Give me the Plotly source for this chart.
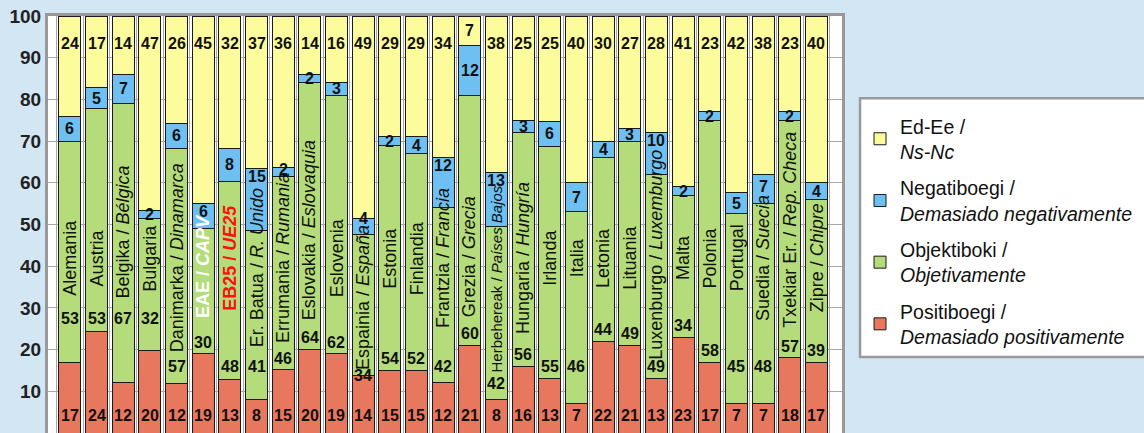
import re
import plotly.graph_objects as go

# countries (Basque / Spanish italic)
countries = [
    "Alemania", "Austria", "Belgika / <i>Bélgica</i>", "Bulgaria",
    "Danimarka / <i>Dinamarca</i>", "EAE / <i>CAPV</i>", "EB25 / <i>UE25</i>",
    "Er. Batua / <i>R. Unido</i>", "Errumania / <i>Rumania</i>",
    "Eslovakia / <i>Eslovaquia</i>", "Eslovenia", "Espainia / <i>España</i>",
    "Estonia", "Finlandia", "Frantzia / <i>Francia</i>", "Grezia / <i>Grecia</i>",
    "Herbehereak / <i>Países Bajos</i>", "Hungaria / <i>Hungría</i>", "Irlanda",
    "Italia", "Letonia", "Lituania", "Luxenburgo / <i>Luxemburgo</i>", "Malta",
    "Polonia", "Portugal", "Suedia / <i>Suecia</i>",
    "Txekiar Er. / <i>Rep. Checa</i>", "Zipre / <i>Chipre</i>",
]
positive = [17, 24, 12, 20, 12, 19, 13, 8, 15, 20, 19, 14, 15, 15, 12, 21, 8, 16, 13, 7, 22, 21, 13, 23, 17, 7, 7, 18, 17]
objective = [53, 53, 67, 32, 57, 30, 48, 41, 46, 64, 62, 34, 54, 52, 42, 60, 42, 56, 55, 46, 44, 49, 49, 34, 58, 45, 48, 57, 39]
negative = [6, 5, 7, 2, 6, 6, 8, 15, 2, 2, 3, 4, 2, 4, 12, 12, 13, 3, 6, 7, 4, 3, 10, 2, 2, 5, 7, 2, 4]
dontknow = [24, 17, 14, 47, 26, 45, 32, 37, 36, 14, 16, 49, 29, 29, 34, 7, 38, 25, 25, 40, 30, 27, 28, 41, 23, 42, 38, 23, 40]

# (legend text, values, colour, legend rank) -- stacked bottom to top
series = [
    ("Positiboegi /<br><i>Demasiado positivamente</i>", positive, "#e8785d", 4),
    ("Objektiboki /<br><i>Objetivamente</i>", objective, "#b5dc7b", 3),
    ("Negatiboegi /<br><i>Demasiado negativamente</i>", negative, "#6dc0f1", 2),
    ("Ed-Ee /<br><i>Ns-Nc</i>", dontknow, "#fdfc9c", 1),
]

BG = "#d3e6f4"
FONT = "Liberation Sans, Arial, sans-serif"
PX_PER_UNIT = 417 / 100  # plot height / y span, for keeping names clear of labels

fig = go.Figure()
for i, (name, vals, color, rank) in enumerate(series):
    fig.add_trace(go.Bar(
        x=countries, y=vals, name=name, marker_color=color,
        marker_line=dict(color="#1a1a1a", width=1), width=0.83,
        legendgroup=str(i), legendrank=rank, hoverinfo="skip",
    ))

# 100% stacked: value labels placed on the normalised stack
ann = []
lab = dict(size=16, color="#111", family=FONT, weight="bold")
for i, c in enumerate(countries):
    tot = positive[i] + objective[i] + negative[i] + dontknow[i]
    p = positive[i] * 100 / tot
    o = objective[i] * 100 / tot
    n = negative[i] * 100 / tot
    d = dontknow[i] * 100 / tot

    name_color, weight = "#111", "normal"
    if c.startswith("EAE"):
        name_color, weight = "white", "bold"
    elif c.startswith("EB25"):
        name_color, weight = "#ff1010", "bold"

    plain = re.sub(r"<[^>]+>", "", c)
    size = 18 if len(plain) <= 24 else 15
    em = 0.53 if weight == "bold" else 0.48
    half_len = len(plain) * em * size / PX_PER_UNIT / 2

    y_red = 4.3
    y_green = 27.5 if i < 4 else max(16, p + 2.8)
    # country name: clear of the green label; may run into a big blue part only
    y_name = max(42, y_green + 3 + half_len)
    name_limit = p + o + (2.5 if negative[i] < 10 else n - 3)
    y_name = min(y_name, name_limit - half_len)
    y_green = max(p, min(y_green, y_name - half_len - 2.5))
    y_blue = p + o + n / 2
    if negative[i] >= 10 and y_blue < 70:
        y_blue = p + o + n - 1.8
    elif negative[i] < 10:
        y_blue = max(y_blue, y_name + half_len + 1.5)
    y_yel = 100 - min(6.5, d / 2)
    for v, yy in ((positive[i], y_red), (objective[i], y_green),
                  (negative[i], y_blue), (dontknow[i], y_yel)):
        ann.append(dict(x=c, y=yy, text=str(v), showarrow=False, font=lab,
                        xanchor="center", yanchor="middle"))

    ann.append(dict(x=c, y=y_name, text=c, textangle=-90, showarrow=False,
                    font=dict(size=size, color=name_color, family=FONT, weight=weight),
                    xanchor="center", yanchor="middle"))

fig.update_layout(
    width=1144, height=433,
    margin=dict(l=48, r=302, t=16, b=0),
    paper_bgcolor=BG, plot_bgcolor="white",
    barmode="stack", barnorm="percent", bargap=0.17,
    font=dict(family=FONT, color="#111"),
    annotations=ann,
    # legend frame drawn separately so the items can sit a little lower inside it
    shapes=[dict(type="rect", xref="paper", yref="paper",
                 x0=1.0227, x1=1.40, y0=0.182, y1=0.803,
                 fillcolor="white", line=dict(color="#9a9a9a", width=2.5))],
    legend=dict(
        x=1.0227, xanchor="left", y=0.782, yanchor="top",
        bgcolor="rgba(0,0,0,0)", borderwidth=0,
        font=dict(size=19.5, family=FONT, color="#111"),
        traceorder="grouped", tracegroupgap=8,
    ),
    xaxis=dict(
        range=[-0.82, 28.96], showticklabels=False, side="top", automargin=False,
        showline=True, linecolor="#999999", linewidth=3,
        showgrid=True, gridcolor="#a8a8a8", gridwidth=1, tickson="boundaries",
        ticks="",
    ),
    yaxis=dict(
        range=[0, 100], dtick=10, showgrid=True, gridcolor="#a8a8a8", gridwidth=1,
        showline=True, mirror=True, linecolor="#999999", linewidth=3, automargin=False,
        tickfont=dict(size=19, family=FONT, color="#222", weight="bold"),
        ticks="", zeroline=False,
    ),
)

# page body margin would otherwise offset the figure by 8px
fig.write_html("out.html", config={"displayModeBar": False},
               post_script="document.body.style.margin='0';")
